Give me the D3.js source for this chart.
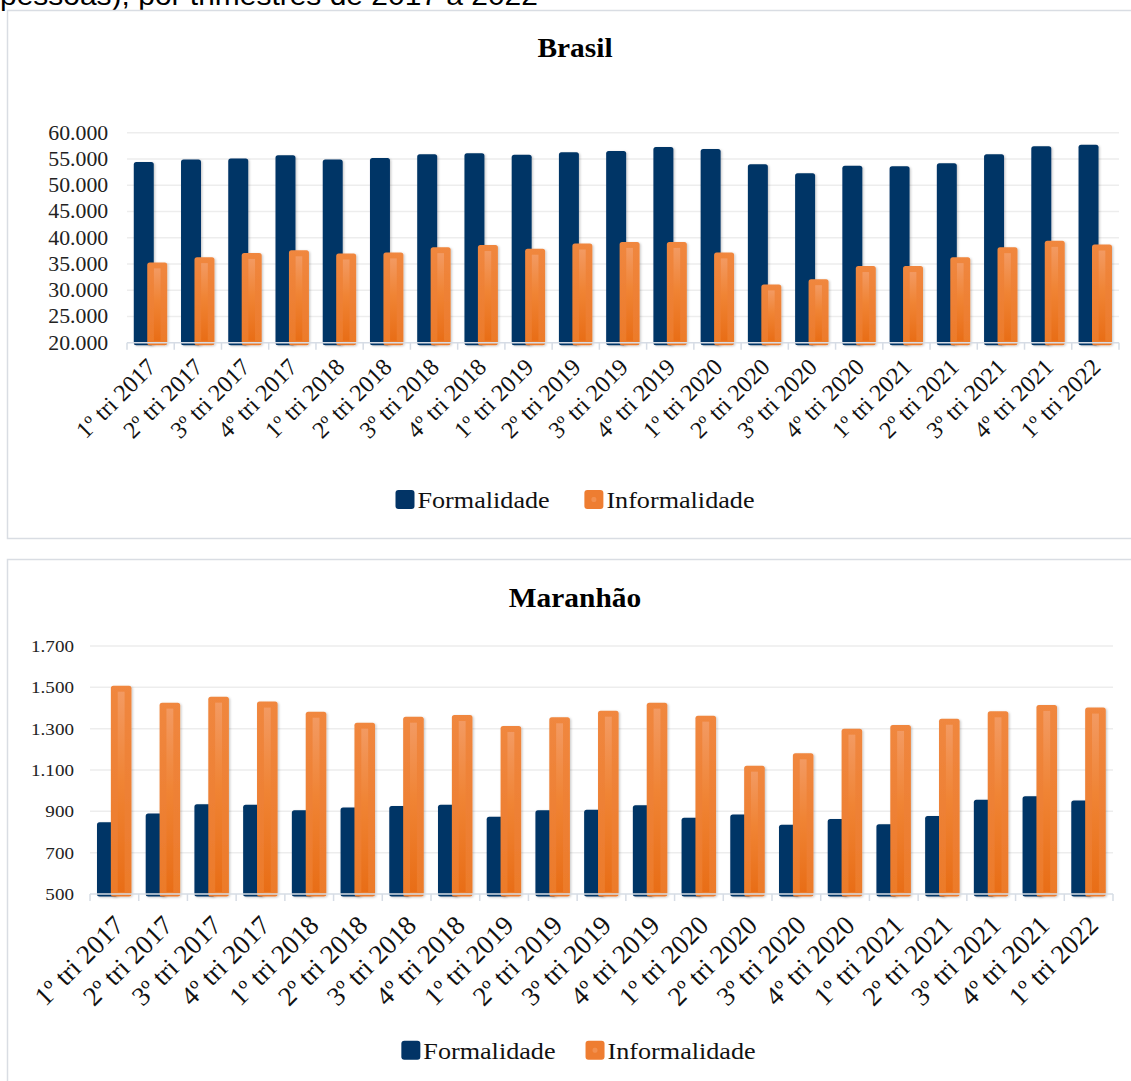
<!DOCTYPE html>
<html><head><meta charset="utf-8">
<script src="https://cdn.jsdelivr.net/npm/d3@7"></script>
<style>body{margin:0;background:#fff;} svg{display:block;}</style>
</head><body>
<svg id="c" width="1131" height="1081"></svg>
<script>
const pageHeading = "pessoas), por trimestres de 2017 a 2022";
const categories = ["1º tri 2017","2º tri 2017","3º tri 2017","4º tri 2017",
  "1º tri 2018","2º tri 2018","3º tri 2018","4º tri 2018",
  "1º tri 2019","2º tri 2019","3º tri 2019","4º tri 2019",
  "1º tri 2020","2º tri 2020","3º tri 2020","4º tri 2020",
  "1º tri 2021","2º tri 2021","3º tri 2021","4º tri 2021","1º tri 2022"];
const seriesNames = ["Formalidade", "Informalidade"];
const brasilTitle = "Brasil";
const brasilFormalidade = [54400,54900,55100,55700,54900,55200,55900,56100,55800,56300,56500,57300,56900,54000,52300,53700,53600,54200,55900,57400,57700];
const brasilInformalidade = [35300,36300,37100,37600,37000,37200,38200,38600,37900,38900,39200,39200,37200,31100,32100,34600,34600,36300,38200,39400,38700];
const brasilTicks = [20000,25000,30000,35000,40000,45000,50000,55000,60000];
const maranhaoTitle = "Maranhão";
const maranhaoFormalidade = [847,890,934,932,905,918,926,932,874,905,908,929,869,885,835,863,837,877,956,973,953];
const maranhaoInformalidade = [1508,1426,1455,1431,1382,1329,1358,1366,1313,1355,1387,1426,1363,1121,1181,1300,1318,1348,1384,1415,1402];
const maranhaoTicks = [500,700,900,1100,1300,1500,1700];

const NAVY = "#023466", ORANGE = "#EE7D31";
const SERIF = "'Liberation Serif','Times New Roman',serif";
const SX = 1.09;
const ptBR = d3.formatLocale({decimal:",", thousands:".", grouping:[3], currency:["R$",""]});
const fmt = ptBR.format(",");

const svg = d3.select("#c");
svg.append("rect").attr("width",1131).attr("height",1081).attr("fill","#fff");
const defs = svg.append("defs");
const g1 = defs.append("linearGradient").attr("id","oOuter").attr("x1",0).attr("y1",0).attr("x2",0).attr("y2",1);
g1.append("stop").attr("offset","0%").attr("stop-color","#F0873F");
g1.append("stop").attr("offset","100%").attr("stop-color","#EC7A2A");
const g2 = defs.append("linearGradient").attr("id","oInner").attr("x1",0).attr("y1",0).attr("x2",0).attr("y2",1);
g2.append("stop").attr("offset","0%").attr("stop-color","#F39C66");
g2.append("stop").attr("offset","45%").attr("stop-color","#F08434");
g2.append("stop").attr("offset","100%").attr("stop-color","#E86C14");
const f = defs.append("filter").attr("id","sh").attr("x","-30%").attr("y","-10%").attr("width","170%").attr("height","130%");
f.append("feDropShadow").attr("dx",1.2).attr("dy",0.8).attr("stdDeviation",1.1).attr("flood-color","#000").attr("flood-opacity",0.22);

// heading (cut at top, as in the source page)
svg.append("text").text(pageHeading)
  .attr("transform","translate(0,4.5) scale(1.09,1)")
  .attr("font-family","'Liberation Sans',Arial,sans-serif").attr("font-size",27.5).attr("fill","#000");

function drawChart(cfg){
  const g = svg.append("g");
  g.append("rect").attr("x",7.5).attr("y",cfg.frame[0]).attr("width",1140).attr("height",cfg.frame[1])
    .attr("fill","#fff").attr("stroke","#D9DDE3").attr("stroke-width",1.5);
  g.append("text").text(cfg.title)
    .attr("transform",`translate(${cfg.titleX},${cfg.titleY}) scale(${SX},1)`)
    .attr("text-anchor","middle").attr("font-family",SERIF).attr("font-weight","bold")
    .attr("font-size",27).attr("fill","#000");

  const x = d3.scaleBand().domain(categories).range(cfg.xRange).paddingInner(0).paddingOuter(0);
  const bw = x.bandwidth();
  const xs = d3.scalePoint().domain(seriesNames).range([0.355*bw, 0.64*bw]);
  const barW = 0.423*bw;
  const y = d3.scaleLinear().domain(cfg.yDomain).range([cfg.plotBottom, cfg.plotTop]);
  const base = y(cfg.yDomain[0]);

  // gridlines
  g.append("g").selectAll("line").data(cfg.ticks.slice(1)).join("line")
    .attr("x1",cfg.xRange[0]).attr("x2",cfg.xRange[1])
    .attr("y1",d=>y(d)).attr("y2",d=>y(d))
    .attr("stroke","#EDEDED").attr("stroke-width",1.5);

  // y labels
  const ya = g.append("g").attr("transform",`translate(${cfg.xRange[0]},0)`)
    .call(d3.axisLeft(y).tickValues(cfg.ticks).tickSize(0).tickPadding(cfg.yPad).tickFormat(fmt));
  ya.select(".domain").remove();
  ya.selectAll("text").attr("font-family",SERIF).attr("font-size",cfg.yFont).attr("fill","#222")
    .attr("transform",`scale(${SX},1)`);

  const rows = categories.map((c,i)=>({c, v:[cfg.formal[i], cfg.informal[i]]}));
  // navy bars
  g.append("g").selectAll("rect").data(rows).join("rect")
    .attr("x",d=>x(d.c)+xs(seriesNames[0])-barW/2).attr("width",barW)
    .attr("y",d=>y(d.v[0])).attr("height",d=>base-y(d.v[0])+2.5)
    .attr("rx",2.5).attr("fill",NAVY).attr("filter","url(#sh)");
  // orange bars
  const og = g.append("g").selectAll("g").data(rows).join("g");
  og.append("rect")
    .attr("x",d=>x(d.c)+xs(seriesNames[1])-barW/2).attr("width",barW)
    .attr("y",d=>y(d.v[1])).attr("height",d=>base-y(d.v[1])+2.5)
    .attr("rx",2.5).attr("fill","url(#oOuter)").attr("filter","url(#sh)");
  og.append("rect")
    .attr("x",d=>x(d.c)+xs(seriesNames[1])-barW/6).attr("width",barW/3)
    .attr("y",d=>y(d.v[1])+6).attr("height",d=>Math.max(0,base-y(d.v[1])-8))
    .attr("fill","url(#oInner)").attr("opacity",0.9);

  // x axis line + boundary ticks
  g.append("line").attr("x1",cfg.xRange[0]).attr("x2",cfg.xRange[1]).attr("y1",base).attr("y2",base)
    .attr("stroke","#D6DCE5").attr("stroke-width",1.5);
  const bounds = categories.map(c=>x(c)).concat([x(categories[categories.length-1])+bw]);
  g.append("g").selectAll("line").data(bounds).join("line")
    .attr("x1",d=>d).attr("x2",d=>d).attr("y1",base).attr("y2",base+7)
    .attr("stroke","#D6DCE5").attr("stroke-width",1.5);

  // x labels
  const xa = g.append("g").attr("transform",`translate(0,${base})`)
    .call(d3.axisBottom(x).tickSize(0).tickPadding(0));
  xa.select(".domain").remove();
  xa.selectAll("text").attr("x",0).attr("y",0).attr("dy",0)
    .attr("transform",`translate(${cfg.xLab[0]},${cfg.xLab[1]}) rotate(-45)`)
    .style("text-anchor","end").attr("font-family",SERIF).attr("font-size",cfg.xFont).attr("fill","#111");

  // legend
  const lg = g.append("g");
  const colors = [NAVY, ORANGE];
  const items = seriesNames.map((s,i)=>{
    const it = lg.append("g");
    it.append("rect").attr("x",0).attr("y",-9.5).attr("width",19).attr("height",19).attr("rx",3).attr("fill",colors[i]);
    if(i===1) it.append("rect").attr("x",7).attr("y",-2.5).attr("width",5).attr("height",5).attr("rx",2).attr("fill","#F39558").attr("opacity",0.8);
    const t = it.append("text").text(s).attr("font-family",SERIF).attr("font-size",24).attr("fill","#111")
      .attr("transform",`translate(22,8.5) scale(${SX},1)`);
    return {it, w: 22 + t.node().getComputedTextLength()*SX};
  });
  const gap = cfg.legendGap;
  const total = items[0].w + gap + items[1].w;
  let cx = cfg.legendCx - total/2;
  items.forEach(o=>{ o.it.attr("transform",`translate(${cx},${cfg.legendY})`); cx += o.w + gap; });
}

drawChart({frame:[10.5,528], title:brasilTitle, titleX:575, titleY:57,
  xRange:[127,1119], yDomain:[20000,60000], plotTop:132.7, plotBottom:342.7, ticks:brasilTicks,
  formal:brasilFormalidade, informal:brasilInformalidade, yFont:20, yPad:17.2,
  xFont:24, xLab:[6.5,25.8], legendY:499.5, legendCx:575, legendGap:34.7});

drawChart({frame:[559.5,540], title:maranhaoTitle, titleX:575, titleY:607,
  xRange:[90,1113], yDomain:[500,1700], plotTop:646, plotBottom:894, ticks:maranhaoTicks,
  formal:maranhaoFormalidade, informal:maranhaoInformalidade, yFont:17.5, yPad:14.7,
  xFont:27, xLab:[11.2,33], legendY:1050.3, legendCx:578.5, legendGap:30});
</script>
</body></html>
